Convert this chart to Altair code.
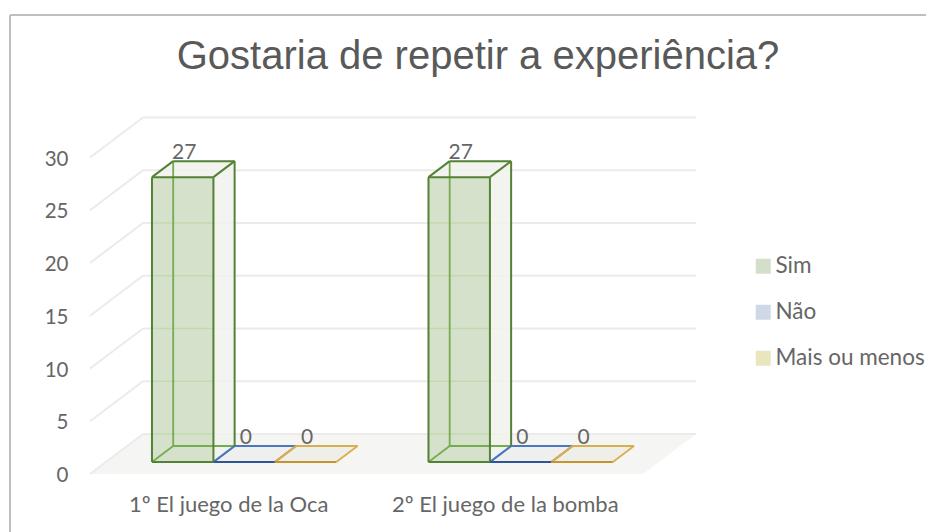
import altair as alt
import pandas as pd

TITLE = "Gostaria de repetir a experiência?"
CATEGORIES = ["1º El juego de la Oca", "2º El juego de la bomba"]
SERIES = ["Sim", "Não", "Mais ou menos"]
SIM = [27, 27]
NAO = [0, 0]
MAIS = [0, 0]
VALUES = [SIM, NAO, MAIS]
TICKS = [0, 5, 10, 15, 20, 25, 30]
LEGEND_COLORS = ["#d4dfc9", "#cfd8e6", "#e9e6bf"]
FRONT_EDGE = ["#548235", "#2f5597", "#c4952a"]
BACK_EDGE = ["#74ad50", "#4a78c0", "#d9ae4f"]
SIDE_FILL = ["#f1f2ed", "#eeeeec", "#eeeeea"]
TEXT = "#666666"
GRID = "#ebebeb"
SEEN_GRID = "#b9d7a4"
FLOOR = "#f5f5f3"
FRAME = "#bfbfbf"
FONT = "Lato"

# oblique projection of chart depth (0 front .. 1 back) into scale units
DX = 53 / 276.5
DY = 40 / 10.55
BAR = 1 / 4.5
MARGIN = 0.75 * BAR
W0, W1 = 0.3, 0.7
VIEW_W, VIEW_H = 916, 517

xs = alt.Scale(domain=[-80 / 276.5, (VIEW_W - 80) / 276.5], nice=False, zero=False)
ys = alt.Scale(domain=[-58 / 10.55, 459 / 10.55], nice=False, zero=False)

labelexpr = f"datum.value < 1 ? '{CATEGORIES[0]}' : '{CATEGORIES[1]}'"
X = alt.X("x:Q", scale=xs, title=None,
          axis=alt.Axis(values=[0.5, 1.5], labelExpr=labelexpr, domain=False, ticks=False,
                        grid=False, offset=-38, labelPadding=0, labelFontSize=22,
                        labelFont=FONT, labelColor=TEXT, labelOverlap=False, labelFlush=False,
                        labelLimit=320))
Y = alt.Y("y:Q", scale=ys, title=None,
          axis=alt.Axis(values=TICKS, domain=False, ticks=False, grid=False, offset=-58,
                        labelPadding=0, labelFontSize=20.5, labelFont=FONT, labelColor=TEXT,
                        labelOverlap=False, labelFlush=False, labelOffset=1.5))


def P(u, w, v):
    return u + w * DX, v + w * DY


def parallelogram(u0, u1, w0, w1, h, extra):
    """Depth-slanted flat face, as area-mark rows sorted along x."""
    yf = P(0, w0, h)[1]
    yb = P(0, w1, h)[1]
    rows = []
    for (u, w, top, low) in [(u0, w0, yf, yf), (u0, w1, yb, yf), (u1, w0, yb, yf), (u1, w1, yb, yb)]:
        rows.append({"x": P(u, w, h)[0], "y": top, "y2": low, **extra})
    return rows


grid_rows = []
for t in TICKS:
    for (a, b) in [((0, 0), (0, 1)), ((0, 1), (2, 1))]:
        for (u, w) in (a, b):
            x, y = P(u, w, t)
            grid_rows.append({"x": x, "y": y, "g": f"{t}-{a}"})
floor_rows = parallelogram(0, 2, 0, 1, 0, {"g": "f"})

faces, front, back_e, front_e, labels, seen = [], [], [], [], [], []
for ci in range(len(CATEGORIES)):
    for si, name in enumerate(SERIES):
        v = VALUES[si][ci]
        u0 = ci + MARGIN + si * BAR
        u1 = u0 + BAR
        key = f"{ci}-{si}"
        for w in (W0, W1):
            x, y = P(u1, w, v)
            faces.append({"x": x, "y": y, "y2": P(u1, w, 0)[1], "g": key + "side", "c": SIDE_FILL[si]})
        faces += parallelogram(u0, u1, W0, W1, v, {"g": key + "top", "c": SIDE_FILL[si]})
        faces += parallelogram(u0, u1, W0, W1, 0, {"g": key + "bot", "c": SIDE_FILL[si]})
        fx0, fy0 = P(u0, W0, 0)
        fx1, fy1 = P(u1, W0, v)
        front.append({"x": fx0, "x2": fx1, "y": fy1, "y2": fy0, "Series": name})
        for t in TICKS:
            wall = P(0, 1, t)[1]
            if fy0 < wall < fy1:
                seen.append({"x": fx0, "y": wall, "g": f"{key}-{t}"})
                seen.append({"x": fx1, "y": wall, "g": f"{key}-{t}"})

        def edge(lst, tag, a, b):
            for (u, w, h) in (a, b):
                x, y = P(u, w, h)
                lst.append({"x": x, "y": y, "g": key + tag, "c": FRONT_EDGE[si] if lst is front_e else BACK_EDGE[si]})

        edge(back_e, "bl", (u0, W1, 0), (u0, W1, v))
        edge(back_e, "bb", (u0, W1, 0), (u1, W1, 0))
        edge(back_e, "bd", (u0, W0, 0), (u0, W1, 0))
        edge(front_e, "fb", (u0, W0, 0), (u1, W0, 0))
        edge(back_e if v == 0 else front_e, "td1", (u0, W0, v), (u0, W1, v))
        edge(back_e if v == 0 else front_e, "td2", (u1, W0, v), (u1, W1, v))
        edge(back_e if v == 0 else front_e, "tb", (u0, W1, v), (u1, W1, v))
        if v != 0:
            edge(front_e, "ft", (u0, W0, v), (u1, W0, v))
            edge(front_e, "fl", (u0, W0, 0), (u0, W0, v))
            edge(front_e, "fr", (u1, W0, 0), (u1, W0, v))
            edge(front_e, "br", (u1, W1, 0), (u1, W1, v))
        lx, ly = P((u0 + u1) / 2, 0.5, v)
        labels.append({"x": lx, "y": ly, "t": str(v)})

frame_top = alt.Chart(pd.DataFrame({"a": [0]})).mark_rule(color=FRAME, strokeWidth=2).encode(
    x=alt.value(0), x2=alt.value(VIEW_W), y=alt.value(0))
frame_left = alt.Chart(pd.DataFrame({"a": [0]})).mark_rule(color=FRAME, strokeWidth=2).encode(
    x=alt.value(0), y=alt.value(0), y2=alt.value(VIEW_H))
grid = alt.Chart(pd.DataFrame(grid_rows)).mark_line(color=GRID, strokeWidth=2).encode(
    x=X, y=Y, detail="g:N")
floor = alt.Chart(pd.DataFrame(floor_rows)).mark_area(color=FLOOR, interpolate="linear").encode(
    x=X, y=Y, y2="y2:Q")
face_layer = alt.Chart(pd.DataFrame(faces)).mark_area(opacity=0.85, interpolate="linear").encode(
    x=X, y=Y, y2="y2:Q", detail="g:N", color=alt.Color("c:N", scale=None, legend=None))
front_layer = alt.Chart(pd.DataFrame(front)).mark_rect(opacity=0.95).encode(
    x=X, x2="x2:Q", y=Y, y2="y2:Q",
    color=alt.Color("Series:N", sort=SERIES,
                    scale=alt.Scale(domain=SERIES, range=LEGEND_COLORS),
                    legend=alt.Legend(title=None, orient="none", legendX=742, legendY=240,
                                      symbolType="square", symbolSize=225, symbolStrokeWidth=0,
                                      symbolOpacity=1, labelFont=FONT, labelFontSize=22.5,
                                      labelColor=TEXT, labelOffset=1, rowPadding=23,
                                      labelLimit=220)))
seen_grid = alt.Chart(pd.DataFrame(seen)).mark_line(color=SEEN_GRID, strokeWidth=1.5, opacity=0.7).encode(
    x=X, y=Y, detail="g:N")
back_lines = alt.Chart(pd.DataFrame(back_e)).mark_line(strokeWidth=1.8).encode(
    x=X, y=Y, detail="g:N", color=alt.Color("c:N", scale=None, legend=None))
front_lines = alt.Chart(pd.DataFrame(front_e)).mark_line(strokeWidth=2).encode(
    x=X, y=Y, detail="g:N", color=alt.Color("c:N", scale=None, legend=None))
text = alt.Chart(pd.DataFrame(labels)).mark_text(
    font=FONT, fontSize=21, color=TEXT, dx=-9, dy=-16, baseline="middle").encode(
    x=X, y=Y, text="t:N")

chart = (
    alt.layer(frame_top, frame_left, floor, grid, face_layer, front_layer, seen_grid, back_lines,
              front_lines, text)
    .resolve_scale(color="independent")
    .properties(
        width=VIEW_W, height=VIEW_H,
        padding={"left": 2, "top": 7, "right": 0, "bottom": 0},
        autosize=alt.AutoSizeParams(type="none"),
        title=alt.TitleParams(TITLE, font="Liberation Sans", fontSize=40, fontWeight="normal",
                              color="#595959", anchor="middle", dx=10, offset=-95,
                              baseline="alphabetic", limit=800),
    )
    .configure_view(stroke=None)
    .configure(background="white")
)
chart.save("out.html", embed_options={"renderer": "svg", "actions": False})
